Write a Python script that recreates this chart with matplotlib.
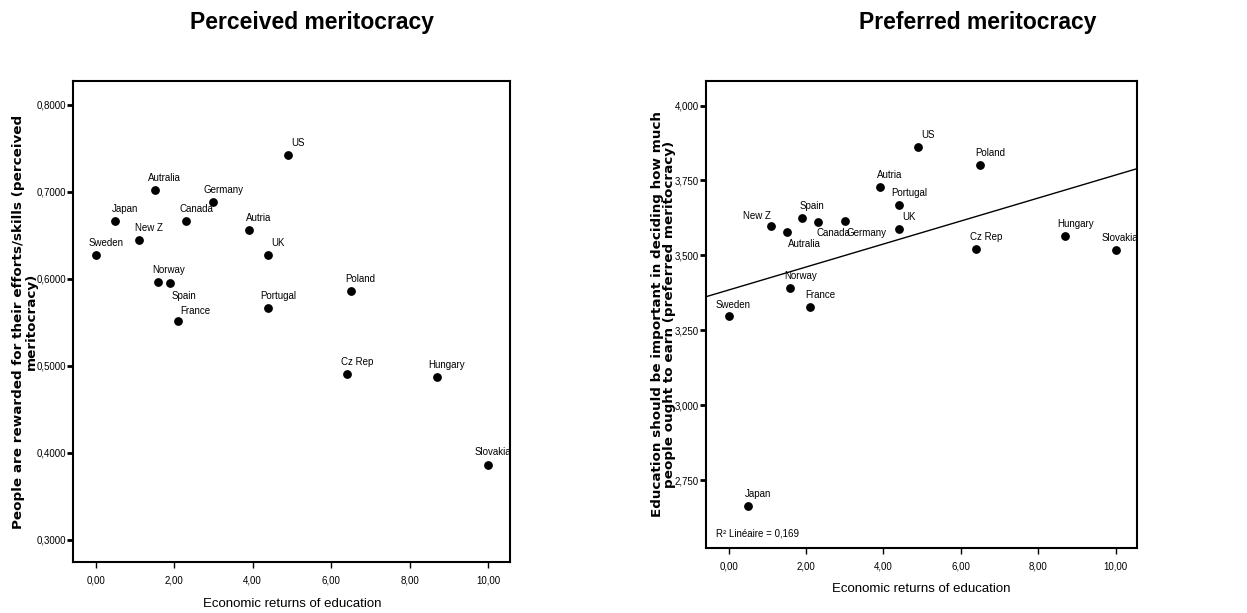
import numpy as np
import matplotlib.pyplot as plt
from matplotlib.ticker import FuncFormatter

plt.rcParams['font.family'] = ['Liberation Sans', 'DejaVu Sans']

# Country data
countries = ['US', 'Autralia', 'Germany', 'Japan', 'Canada', 'Autria', 'New Z',
             'Sweden', 'UK', 'Norway', 'Spain', 'Poland', 'Portugal', 'France',
             'Cz Rep', 'Hungary', 'Slovakia']
returns = [4.9, 1.5, 3.0, 0.5, 2.3, 3.9, 1.1,
           0.0, 4.4, 1.6, 1.9, 6.5, 4.4, 2.1,
           6.4, 8.7, 10.0]
perceived = [0.742, 0.702, 0.688, 0.667, 0.667, 0.656, 0.645,
             0.627, 0.627, 0.596, 0.595, 0.586, 0.567, 0.552,
             0.491, 0.487, 0.386]
preferred = [3.862, 3.578, 3.615, 2.664, 3.611, 3.728, 3.599,
             3.298, 3.589, 3.390, 3.625, 3.802, 3.667, 3.329,
             3.520, 3.563, 3.517]

# label offsets (pixels) for each country label
off_left = {'Spain': (14, -13), 'France': (17, 10), 'Slovakia': (5, 13)}
off_right = {'New Z': (-14, 10), 'Canada': (16, -11), 'Germany': (22, -12),
             'Autralia': (18, -12), 'Slovakia': (4, 12), 'Sweden': (5, 11)}

fig = plt.figure(figsize=(12.47, 6.13), dpi=100)
ax1 = fig.add_axes([0.0585, 0.0832, 0.3505, 0.7848])
ax2 = fig.add_axes([0.5662, 0.1065, 0.3459, 0.7614])

label_font = dict(fontsize=9.7, fontweight='bold', linespacing=0.95,
                  family=['DejaVu Sans'])


def style(ax, fmt):
    for s in ax.spines.values():
        s.set_linewidth(1.5)
    ax.tick_params(axis='y', direction='out', length=4, width=2, labelsize=7, pad=1)
    ax.tick_params(axis='x', direction='out', length=4, width=1, labelsize=7, pad=6)
    ax.yaxis.set_major_formatter(FuncFormatter(lambda v, p: fmt.format(v).replace('.', ',')))
    ax.xaxis.set_major_formatter(FuncFormatter(lambda v, p: '{:.2f}'.format(v).replace('.', ',')))
    ax.set_xticks([0, 2, 4, 6, 8, 10])
    ax.set_xlim(-0.58, 10.56)


def label_points(ax, ys, offs):
    for name, x, y in zip(countries, returns, ys):
        dx, dy = offs.get(name, (10, 12))
        ax.annotate(name, (x, y), xytext=(dx, dy), textcoords='offset pixels',
                    ha='center', va='center', fontsize=7, annotation_clip=False,
                    clip_on=True)


# Left: perceived meritocracy
ax1.scatter(returns, perceived, s=28, color='black', zorder=3)
label_points(ax1, perceived, off_left)
style(ax1, '{:.4f}')
ax1.set_ylim(0.2747, 0.8276)
ax1.set_yticks([0.3, 0.4, 0.5, 0.6, 0.7, 0.8])
ax1.set_xlabel('Economic returns of education', fontsize=9.5)
ax1.xaxis.set_label_coords(0.501, -0.075)
ax1.set_ylabel('People are rewarded for their efforts/skills (perceived\nmeritocracy)',
               **label_font)
ax1.yaxis.set_label_coords(-0.080, 0.5)

# Right: preferred meritocracy with linear fit
ax2.scatter(returns, preferred, s=28, color='black', zorder=3)
label_points(ax2, preferred, off_right)
style(ax2, '{:.3f}')
ax2.set_ylim(2.524, 4.082)
ax2.set_yticks([2.75, 3.0, 3.25, 3.5, 3.75, 4.0])
slope, icpt = np.polyfit(returns, preferred, 1)
xx = np.array(ax2.get_xlim())
ax2.plot(xx, icpt + slope * xx, color='black', lw=1, zorder=2)
r2 = np.corrcoef(returns, preferred)[0, 1] ** 2
ax2.text(0.022, 0.03, 'R² Linéaire = {:.3f}'.format(r2).replace('.', ','),
         transform=ax2.transAxes, fontsize=7, va='center')
ax2.set_xlabel('Economic returns of education', fontsize=9.5)
ax2.xaxis.set_label_coords(0.5, -0.0756)
ax2.set_ylabel('Education should be important in deciding how much\npeople ought to earn (preferred meritocracy)',
               **label_font)
ax2.yaxis.set_label_coords(-0.0696, 0.5)

fig.text(0.25, 0.9527, 'Perceived meritocracy', fontsize=16.5, fontweight='bold',
         ha='center', va='baseline')
fig.text(0.784, 0.9527, 'Preferred meritocracy', fontsize=16.5, fontweight='bold',
         ha='center', va='baseline')

fig.savefig('out.png', dpi=100)
